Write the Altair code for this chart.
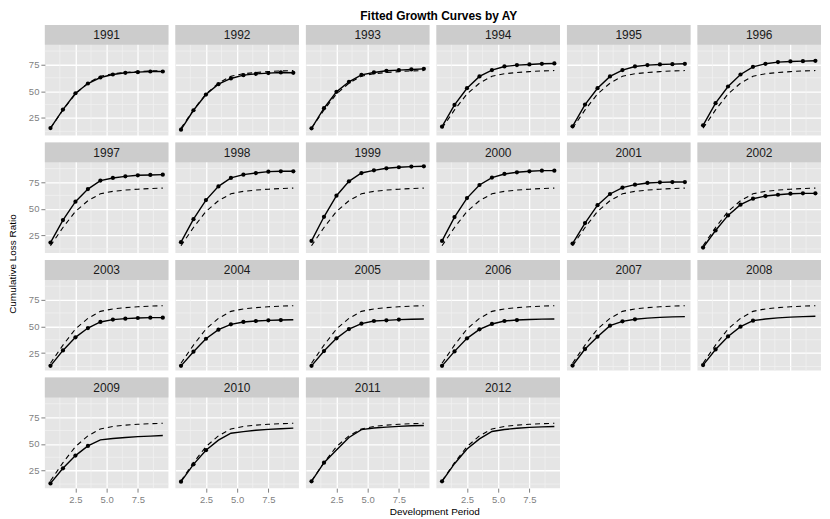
import altair as alt
import pandas as pd

# ---------------- data ----------------
years = list(range(1991, 2013))
periods = [0.5, 1.5, 2.5, 3.5, 4.5, 5.5, 6.5, 7.5, 8.5, 9.5]

# common (dashed) growth curve
prior_curve = [15.5, 32.5, 47.5, 57.5, 64.0, 66.3, 67.5, 68.3, 68.9, 69.3]

# fitted cumulative loss ratio per accident year
curve_1991 = [15.6, 32.8, 48.1, 57.2, 62.8, 65.6, 67.2, 67.8, 68.4, 68.4]
curve_1992 = [14.1, 32.2, 46.9, 56.6, 61.9, 65.0, 66.2, 66.9, 67.5, 67.2]
curve_1993 = [15.3, 34.1, 49.4, 58.8, 65.3, 67.5, 69.1, 69.7, 70.3, 70.9]
curve_1994 = [16.9, 37.2, 52.8, 63.8, 69.7, 73.1, 74.4, 75.0, 75.6, 75.9]
curve_1995 = [17.2, 37.5, 52.8, 63.8, 69.7, 73.1, 74.4, 75.0, 75.3, 75.6]
curve_1996 = [18.1, 38.8, 54.4, 65.6, 72.8, 75.6, 77.2, 77.8, 78.1, 78.4]
curve_1997 = [18.4, 39.4, 56.6, 68.4, 76.3, 78.8, 80.3, 81.3, 81.6, 81.9]
curve_1998 = [18.8, 40.3, 58.1, 70.9, 78.8, 81.9, 83.4, 84.7, 85.0, 85.0]
curve_1999 = [20.0, 42.5, 62.2, 75.6, 83.4, 85.9, 87.8, 88.8, 89.4, 89.7]
curve_2000 = [20.0, 42.2, 60.0, 72.2, 79.1, 82.5, 84.1, 85.0, 85.6, 85.6]
curve_2001 = [17.5, 36.6, 53.4, 63.8, 69.7, 72.5, 74.1, 74.7, 75.0, 75.0]
curve_2002 = [13.8, 29.7, 43.8, 53.8, 59.4, 61.9, 63.1, 64.1, 64.4, 64.4]
curve_2003 = [13.1, 27.5, 39.7, 48.4, 54.1, 56.3, 57.2, 57.8, 58.1, 58.1]
curve_2004 = [13.1, 26.3, 38.4, 46.9, 51.9, 54.1, 55.0, 55.6, 55.9, 56.2]
curve_2005 = [13.1, 26.9, 38.8, 47.5, 52.5, 55.0, 55.6, 56.3, 56.6, 56.9]
curve_2006 = [13.1, 26.6, 38.8, 47.2, 52.2, 55.0, 55.9, 56.4, 56.7, 56.9]
curve_2007 = [13.4, 28.8, 40.3, 50.6, 54.7, 56.6, 57.7, 58.4, 58.8, 59.1]
curve_2008 = [13.8, 28.4, 40.6, 49.7, 55.3, 56.8, 57.9, 58.6, 59.1, 59.4]
curve_2009 = [13.1, 27.2, 39.1, 48.1, 53.8, 55.0, 56.0, 56.8, 57.3, 57.8]
curve_2010 = [14.7, 30.9, 44.1, 53.5, 60.0, 61.5, 62.7, 63.6, 64.2, 64.7]
curve_2011 = [15.0, 32.5, 44.4, 56.0, 63.4, 64.8, 65.7, 66.4, 66.9, 67.2]
curve_2012 = [15.0, 31.5, 45.3, 54.7, 61.6, 63.5, 64.6, 65.4, 65.9, 66.3]

curves = {
    1991: curve_1991, 1992: curve_1992, 1993: curve_1993, 1994: curve_1994,
    1995: curve_1995, 1996: curve_1996, 1997: curve_1997, 1998: curve_1998,
    1999: curve_1999, 2000: curve_2000, 2001: curve_2001, 2002: curve_2002,
    2003: curve_2003, 2004: curve_2004, 2005: curve_2005, 2006: curve_2006,
    2007: curve_2007, 2008: curve_2008, 2009: curve_2009, 2010: curve_2010,
    2011: curve_2011, 2012: curve_2012,
}
# number of observed development periods per accident year
n_observed = [10] * 13 + [9, 8, 7, 6, 5, 4, 3, 2, 1]

x_ticks = [2.5, 5.0, 7.5]
x_minor = [1.25, 3.75, 6.25, 8.75]
y_ticks = [25, 50, 75]
y_minor = [12.5, 37.5, 62.5, 87.5]

# ---------------- layout ----------------
W, HP, STRIP = 124, 91, 20
H = HP + STRIP
X_LO, X_HI = 0.05, 9.95
Y_LO, Y_TOP = 8.65, 93.35
Y_HI = Y_TOP + STRIP * (Y_TOP - Y_LO) / HP
FONT = "Liberation Sans"


def panel(i, year):
    col = i % 6
    show_y = col == 0
    show_x = year >= 2009
    df = pd.DataFrame({"period": periods, "value": curves[year], "prior": prior_curve})
    obs = df.iloc[: n_observed[i]]

    xs = alt.Scale(domain=[X_LO, X_HI], nice=False, zero=False)
    ys = alt.Scale(domain=[Y_LO, Y_HI], nice=False, zero=False)
    xa = alt.Axis(values=x_ticks, format=".1f", labels=show_x, ticks=show_x,
                  domain=False, grid=True, title=None)
    ya = alt.Axis(values=y_ticks, labels=show_y, ticks=show_y,
                  domain=False, grid=True, title=None)

    minor_x = alt.Chart(pd.DataFrame({"m": x_minor})).mark_rule(
        color="#F2F2F2", strokeWidth=0.7).encode(x=alt.X("m:Q", scale=xs, axis=xa))
    minor_y = alt.Chart(pd.DataFrame({"m": y_minor})).mark_rule(
        color="#F2F2F2", strokeWidth=0.7).encode(y=alt.Y("m:Q", scale=ys, axis=ya))
    dashed = alt.Chart(df).mark_line(color="black", strokeWidth=1.1, strokeDash=[5, 4]).encode(
        x=alt.X("period:Q", scale=xs, axis=xa), y=alt.Y("prior:Q", scale=ys, axis=ya))
    solid = alt.Chart(df).mark_line(color="black", strokeWidth=1.4).encode(
        x=alt.X("period:Q", scale=xs, axis=xa), y=alt.Y("value:Q", scale=ys, axis=ya))
    pts = alt.Chart(obs).mark_circle(color="black", size=18, opacity=1).encode(
        x=alt.X("period:Q", scale=xs, axis=xa), y=alt.Y("value:Q", scale=ys, axis=ya))
    lab = pd.DataFrame({"AY": [str(year)]})
    strip = alt.Chart(lab).mark_rect(color="#CCCCCC").encode(
        x=alt.value(0), x2=alt.value(W), y=alt.value(0), y2=alt.value(STRIP))
    strip_txt = alt.Chart(lab).mark_text(font=FONT, fontSize=12, color="#1A1A1A",
                                         baseline="middle", align="center").encode(
        text="AY:N", x=alt.value(W / 2), y=alt.value(STRIP / 2 + 0.5))
    return alt.layer(minor_x, minor_y, dashed, solid, pts, strip, strip_txt).properties(
        width=W, height=H)


panels = [panel(i, y) for i, y in enumerate(years)]
rows = [alt.hconcat(*panels[r * 6:(r + 1) * 6], spacing=5) for r in range(4)]

grid = alt.vconcat(*rows, spacing=5).properties(
    title=alt.TitleParams("Cumulative Loss Ratio", orient="left", anchor="middle",
                          font=FONT, fontSize=10, fontWeight="normal", color="black",
                          offset=10))
mid = alt.vconcat(grid).properties(
    title=alt.TitleParams("Development Period", orient="bottom", anchor="middle",
                          font=FONT, fontSize=10, fontWeight="normal", color="black",
                          offset=3, dx=20))
chart = alt.vconcat(mid).properties(
    title=alt.TitleParams("Fitted Growth Curves by AY", anchor="middle", font=FONT,
                          fontSize=12, fontWeight="bold", color="black", offset=2, dx=24),
    padding=0,
).configure(background="white").configure_view(
    strokeWidth=0, fill="#E5E5E5"
).configure_axis(
    gridColor="white", gridWidth=1.3, labelColor="#7F7F7F", tickColor="#7F7F7F",
    labelFont=FONT, labelFontSize=9.5, tickSize=4, labelPadding=2,
).configure_concat(spacing=0)

chart.save("out.html", embed_options={"renderer": "svg", "actions": False})
